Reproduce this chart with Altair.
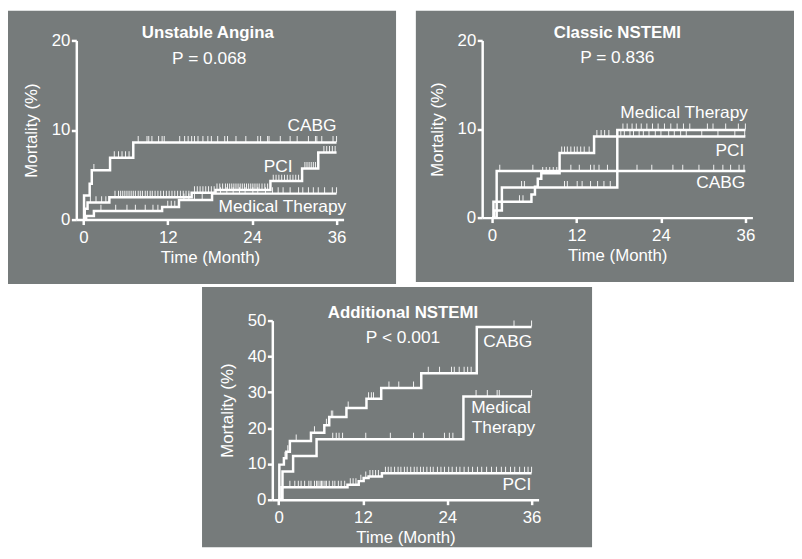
import altair as alt
import pandas as pd
import numpy as np

GRAY = "#767b7b"
FONT = "Liberation Sans"

titles = ["Unstable Angina", "Classic NSTEMI", "Additional NSTEMI"]
pvalues = ["P = 0.068", "P = 0.836", "P < 0.001"]
x_ticks = [0, 12, 24, 36]

# ---------------- Unstable Angina ----------------
ua_cabg_t = [0, 0.1, 0.9, 1.2, 3.8, 7.1, 36]
ua_cabg_m = [0, 2.7, 4.0, 5.5, 6.9, 8.6, 8.6]
ua_pci_t = [0, 0.2, 0.6, 3.7, 15.4, 18.8, 26.6, 31.1, 33.4, 36]
ua_pci_m = [0, 1.2, 1.9, 2.5, 3.0, 3.3, 4.3, 5.7, 7.5, 7.5]
ua_med_t = [0, 0.4, 1.5, 11.2, 13.6, 18.3, 36]
ua_med_m = [0, 0.4, 0.95, 1.4, 2.2, 2.9, 2.9]
ua_cabg_c = [1.5, 4.4, 5.0, 5.5, 6.0, 6.5, 7.8, 9.05, 9.3, 9.75, 10.7, 11.2, 11.5, 13.7, 14.4,
             14.9, 15.4, 15.8, 16.3, 17.0, 17.7, 18.2, 19.1, 20.1, 20.5, 21.7, 23.1, 24.8, 25.2,
             26.2, 26.4, 28.0, 29.4, 30.4, 32.0, 33.0, 33.2, 33.9, 35.5, 36.0]
ua_pci_c = [1.0, 1.8, 2.6, 3.2, 4.5, 5.0, 5.3, 5.6, 5.9, 6.2, 6.5, 6.8, 7.1, 7.4, 7.8, 8.1, 8.4,
            8.8, 9.1, 9.5, 9.8, 10.2, 10.6, 11.0, 11.4, 11.8, 12.2, 12.6, 13.0, 13.4, 13.8, 14.2,
            14.6, 15.0, 15.8, 16.2, 16.6, 17.0, 17.4, 17.8, 18.2, 18.6, 19.0, 19.4, 19.8, 20.2,
            20.5, 20.8, 21.1, 21.4, 21.7, 22.0, 22.3, 22.6, 22.9, 23.2, 23.5, 23.8, 24.1, 24.4,
            24.7, 25.0, 25.4, 25.8, 26.2, 27.0, 27.4, 27.8, 28.2, 28.6, 29.0, 29.4, 29.8, 30.2,
            30.6, 31.5, 31.8, 32.1, 32.4, 32.7, 33.0, 34.2, 34.6, 35.0, 35.4, 35.8]
ua_med_c = [2.5, 4.6, 6.2, 7.4, 8.8, 9.9, 10.6, 12.0, 12.5, 13.0, 14.3, 15.0, 15.8, 16.9, 19.5,
            20.4, 21.3, 22.2, 23.0, 24.1, 24.8, 25.9, 26.9, 27.7, 28.4, 29.4, 30.6, 31.2, 32.0,
            32.7, 33.4, 34.3, 35.4, 36.0]
ua_label_text = ["CABG", "PCI", "Medical Therapy"]
ua_label_t = [32.5, 27.7, 28.3]
ua_label_m = [10.4, 5.9, 1.36]

# ---------------- Classic NSTEMI ----------------
cn_cabg_t = [0, 0.66, 36]
cn_cabg_m = [0, 5.25, 5.25]
cn_pci_t = [0, 0.2, 5.6, 6.1, 6.5, 7.0, 9.6, 14.5, 36]
cn_pci_m = [0, 1.8, 2.6, 3.5, 4.4, 5.0, 7.3, 9.15, 9.15]
cn_med_t = [0, 0.3, 1.4, 17.8, 36]
cn_med_m = [0, 0.8, 3.4, 9.9, 9.9]
cn_cabg_c = [1.1, 5.8, 11.2, 12.4, 14.0, 14.5, 15.2, 16.4, 20.6, 22.7, 25.7, 27.1, 29.4, 31.5,
             32.8, 33.9, 35.1, 35.8]
cn_pci_c = [3.9, 4.4, 7.2, 7.7, 8.2, 8.7, 9.2, 9.9, 10.3, 10.7, 11.2, 11.7, 12.1, 12.6, 13.1,
            13.8, 14.9, 15.5, 16.0, 16.6, 18.3, 18.8, 19.6, 20.1, 20.9, 21.5, 22.3, 23.2, 24.0,
            25.1, 25.9, 26.8, 27.6, 29.8, 32.1, 34.5, 35.9]
cn_med_c = [4.2, 4.6, 10.3, 10.7, 12.1, 12.8, 14.0, 15.0, 15.9, 16.8, 18.6, 19.2, 19.9, 20.5,
            21.2, 22.0, 22.8, 23.6, 24.5, 25.4, 26.3, 27.2, 28.1, 30.6, 31.4, 33.2, 35.0, 36.0]
cn_label_text = ["Medical Therapy", "PCI", "CABG"]
cn_label_t = [27.3, 33.8, 32.5]
cn_label_m = [11.77, 7.56, 3.94]

# ---------------- Additional NSTEMI ----------------
an_cabg_t = [0, 0.1, 0.75, 1.1, 1.6, 4.6, 6.5, 7.2, 9.65, 12.5, 14.6, 20.3, 28.2, 36]
an_cabg_m = [0, 9.8, 11.6, 13.4, 16.4, 18.7, 20.8, 23.1, 25.6, 28.2, 31.2, 35.3, 48.2, 48.2]
an_med_t = [0, 0.55, 2.06, 5.4, 26.3, 36]
an_med_m = [0, 7.9, 12.2, 16.9, 28.8, 28.8]
an_pci_t = [0, 0.4, 9.8, 11.4, 12.1, 12.8, 14.7, 36]
an_pci_m = [0, 3.5, 4.2, 5.2, 6.1, 6.5, 7.4, 7.4]
an_cabg_c = [0.9, 1.3, 2.5, 5.1, 6.8, 7.5, 7.7, 9.9, 12.8, 13.2, 13.5, 15.7, 17.1, 19.2, 21.3,
             22.9, 24.6, 25.0, 25.7, 26.4, 26.9, 27.4, 33.5, 36.0]
an_med_c = [7.7, 8.2, 8.6, 9.1, 12.4, 15.9, 19.2, 20.6, 23.6, 24.3, 24.8, 28.1, 29.7, 31.1,
            31.4, 36.0]
an_pci_c = [1.6, 2.3, 2.8, 3.2, 3.7, 4.3, 4.6, 5.1, 5.4, 5.6, 5.9, 6.1, 6.3, 6.6, 6.8, 7.2, 7.7,
            8.0, 8.5, 8.9, 9.4, 10.2, 10.6, 11.0, 11.7, 12.4, 13.0, 13.4, 13.8, 14.2, 15.2, 15.6,
            16.0, 16.5, 17.0, 17.4, 17.9, 18.3, 18.8, 19.3, 19.7, 20.2, 20.6, 21.1, 21.6, 22.0,
            22.6, 23.1, 23.6, 24.2, 24.7, 25.3, 25.8, 26.4, 27.0, 27.6, 28.3, 28.9, 29.6, 30.3,
            31.0, 31.7, 32.3, 33.0, 33.6, 34.3, 35.0, 35.5, 36.0]
an_label_text = ["CABG", "Medical", "Therapy", "PCI"]
an_label_t = [32.6, 31.65, 32.0, 33.9]
an_label_m = [44.1, 25.7, 19.9, 4.2]

p_pos_t = [17.9, 17.8, 17.7]
p_pos_m = [17.9, 18.0, 45.0]
title_t = [17.7, 17.8, 17.7]


def curves_df(curves):
    rows = []
    for name, (ts, ms, _) in curves.items():
        for t, m in zip(ts, ms):
            rows.append({"t": t, "m": m, "s": name})
    return pd.DataFrame(rows)


def censor_df(curves):
    rows = []
    for name, (ts, ms, cs) in curves.items():
        ts_a = np.array(ts)
        for c in cs:
            idx = int(np.searchsorted(ts_a, c, side="right") - 1)
            rows.append({"t": c, "m": ms[idx], "s": name})
    return pd.DataFrame(rows)


AX = dict(domainColor="white", domainWidth=2.5, tickColor="white", tickWidth=2.5, tickSize=5,
          labelColor="white", labelFont=FONT, labelFontSize=17, titleColor="white",
          titleFont=FONT, titleFontSize=17, titleFontWeight="normal", grid=False, zindex=2,
          labelFlush=False, labelOverlap=False)


def panel(title, tt, pval, pt, pm, curves, lab_text, lab_t, lab_m, ymax, yvals, xdom, w, h, bg,
          ghost=None):
    xe = alt.X("t:Q", scale=alt.Scale(domain=xdom, nice=False, zero=False),
               axis=alt.Axis(values=x_ticks, title="Time (Month)", titlePadding=4,
                             labelPadding=5, **AX))
    ye = alt.Y("m:Q", scale=alt.Scale(domain=[0, ymax], nice=False, zero=False),
               axis=alt.Axis(values=yvals, title="Mortality (%)", titlePadding=10.5,
                             labelPadding=1.5, **AX))
    layers = []
    layers.append(
        alt.Chart(alt.Data(values=[{"a": 1}])).mark_rect(color=GRAY, clip=False).encode(
            x=alt.value(bg[0]), x2=alt.value(w + bg[1]),
            y=alt.value(bg[2]), y2=alt.value(h + bg[3]))
    )
    if ghost is not None:
        layers.append(
            alt.Chart(alt.Data(values=[{"a": 1}])).mark_rect(color=GRAY, opacity=0, clip=False).encode(
                x=alt.value(w + ghost[0]), x2=alt.value(w + ghost[1]),
                y=alt.value(0), y2=alt.value(h))
        )
    layers.append(
        alt.Chart(curves_df(curves)).mark_line(interpolate="step-after", color="white",
                                               strokeWidth=2.5).encode(x=xe, y=ye, detail="s:N")
    )
    layers.append(
        alt.Chart(censor_df(curves)).mark_tick(orient="vertical", color="white", size=6,
                                               thickness=1, yOffset=-3.5, opacity=0.9).encode(
            x=xe, y=ye, detail="s:N")
    )
    lab = pd.DataFrame({"t": lab_t, "m": lab_m, "label": lab_text})
    layers.append(
        alt.Chart(lab).mark_text(color="white", font=FONT, fontSize=17.5, align="center",
                                 baseline="middle").encode(x=xe, y=ye, text="label:N")
    )
    pdf = pd.DataFrame({"t": [pt], "m": [pm], "label": [pval]})
    layers.append(
        alt.Chart(pdf).mark_text(color="white", font=FONT, fontSize=17.5, align="center",
                                 baseline="middle").encode(x=xe, y=ye, text="label:N")
    )
    tdf = pd.DataFrame({"t": [tt], "m": [ymax * 1.04], "label": [title]})
    layers.append(
        alt.Chart(tdf).mark_text(color="white", font=FONT, fontSize=17, fontWeight="bold",
                                 align="center", baseline="middle").encode(
            x=xe, y=ye, text="label:N")
    )
    return alt.layer(*layers).properties(width=w, height=h)


p1 = panel(titles[0], title_t[0], pvalues[0], p_pos_t[0], p_pos_m[0],
           {"CABG": (ua_cabg_t, ua_cabg_m, ua_cabg_c),
            "PCI": (ua_pci_t, ua_pci_m, ua_pci_c),
            "Medical Therapy": (ua_med_t, ua_med_m, ua_med_c)},
           ua_label_text, ua_label_t, ua_label_m, 20, [0, 10, 20], [-1, 37], 270, 181,
           (-69, 53, -30, 65))
p2 = panel(titles[1], title_t[1], pvalues[1], p_pos_t[1], p_pos_m[1],
           {"CABG": (cn_cabg_t, cn_cabg_m, cn_cabg_c),
            "PCI": (cn_pci_t, cn_pci_m, cn_pci_c),
            "Medical Therapy": (cn_med_t, cn_med_m, cn_med_c)},
           cn_label_text, cn_label_t, cn_label_m, 20, [0, 10, 20], [-1.4, 37], 273, 179,
           (-67, 42, -30, 65))
p3 = panel(titles[2], title_t[2], pvalues[2], p_pos_t[2], p_pos_m[2],
           {"CABG": (an_cabg_t, an_cabg_m, an_cabg_c),
            "PCI": (an_pci_t, an_pci_m, an_pci_c),
            "Medical Therapy": (an_med_t, an_med_m, an_med_c)},
           an_label_text, an_label_t, an_label_m, 50, [0, 10, 20, 30, 40, 50], [-0.9, 37], 269,
           181, (-71, 54, -34, 48), ghost=(54, 60))

top = alt.hconcat(p1, p2, spacing=20)
chart = alt.vconcat(top, p3, spacing=3, center=True).properties(
    padding=0, background="white"
).configure_view(stroke=None)

chart.save("out.html", embed_options={"renderer": "svg", "actions": False})
